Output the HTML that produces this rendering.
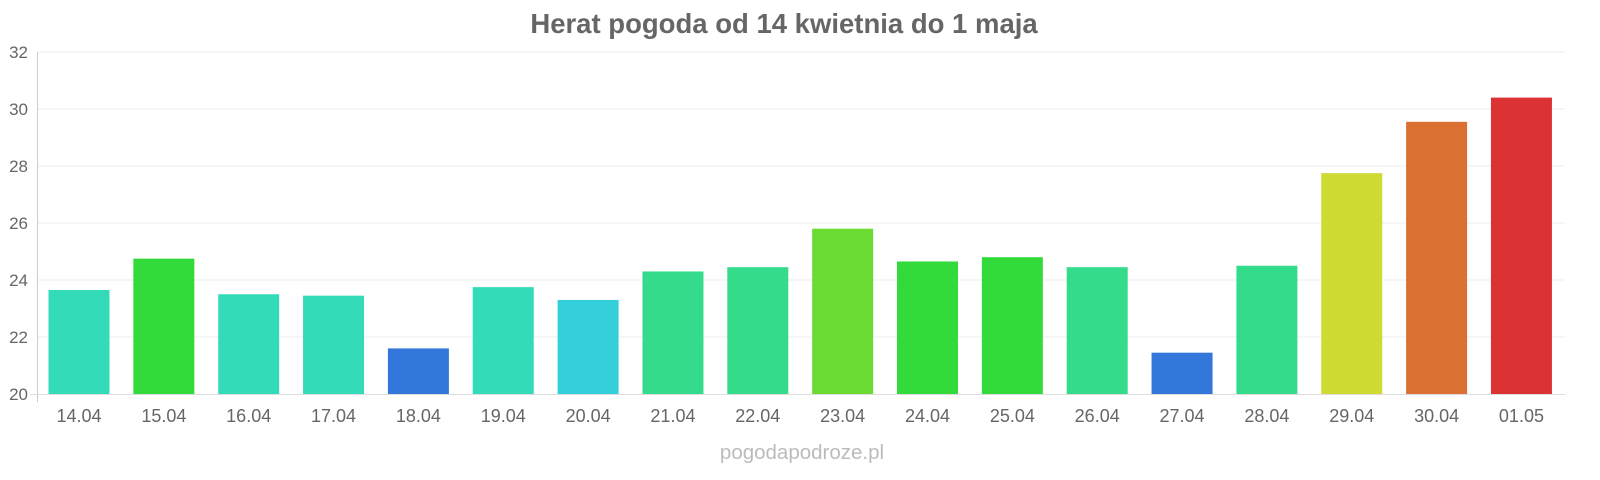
<!DOCTYPE html>
<html><head><meta charset="utf-8"><style>
body{margin:0;background:#fff;}
svg{display:block;font-family:"Liberation Sans",Arial,sans-serif;}
</style></head><body>
<svg width="1600" height="480" xmlns="http://www.w3.org/2000/svg">
<text x="784" y="33" text-anchor="middle" font-size="27.5" font-weight="bold" fill="#666">Herat pogoda od 14 kwietnia do 1 maja</text>
<g stroke="#eee" stroke-width="1">
<line x1="38" y1="52" x2="1565" y2="52"/>
<line x1="38" y1="109" x2="1565" y2="109"/>
<line x1="38" y1="166" x2="1565" y2="166"/>
<line x1="38" y1="223" x2="1565" y2="223"/>
<line x1="38" y1="280" x2="1565" y2="280"/>
<line x1="38" y1="337" x2="1565" y2="337"/>
</g>
<line x1="37.5" y1="52" x2="37.5" y2="402" stroke="#ccc"/>
<line x1="30" y1="394.5" x2="1565" y2="394.5" stroke="#ddd"/>
<g font-size="17" fill="#666" text-anchor="end">
<text x="28" y="58">32</text><text x="28" y="115">30</text><text x="28" y="172">28</text>
<text x="28" y="229">26</text><text x="28" y="286">24</text><text x="28" y="343">22</text><text x="28" y="400">20</text>
</g>
<g id="bars"></g>
<g id="labels" font-size="18" fill="#666" text-anchor="middle"></g>
<text x="802" y="459" text-anchor="middle" font-size="20.5" fill="#bbb">pogodapodroze.pl</text>
<script>
var v=[23.65,24.75,23.5,23.45,21.6,23.75,23.3,24.3,24.45,25.8,24.65,24.8,24.45,21.45,24.5,27.75,29.55,30.4];
var c=["#33dbb9","#33db3a","#33dbb9","#33dbb9","#3377db","#33dbb9","#33cfdb","#33db8a","#33db8a","#6bdb33","#33db3a","#33db3a","#33db8a","#3377db","#33db8a","#cfdb33","#db7033","#db3333"];
var l=["14.04","15.04","16.04","17.04","18.04","19.04","20.04","21.04","22.04","23.04","24.04","25.04","26.04","27.04","28.04","29.04","30.04","01.05"];
var b=document.getElementById("bars"),t=document.getElementById("labels"),ns="http://www.w3.org/2000/svg";
for(var i=0;i<18;i++){var cx=79+84.85*i,y=394-(v[i]-20)*28.5;
var r=document.createElementNS(ns,"rect");r.setAttribute("x",cx-30.5);r.setAttribute("y",y);r.setAttribute("width",61);r.setAttribute("height",394-y);r.setAttribute("fill",c[i]);b.appendChild(r);
var tx=document.createElementNS(ns,"text");tx.setAttribute("x",cx);tx.setAttribute("y",422);tx.textContent=l[i];t.appendChild(tx);}
</script>
</svg>
</body></html>
